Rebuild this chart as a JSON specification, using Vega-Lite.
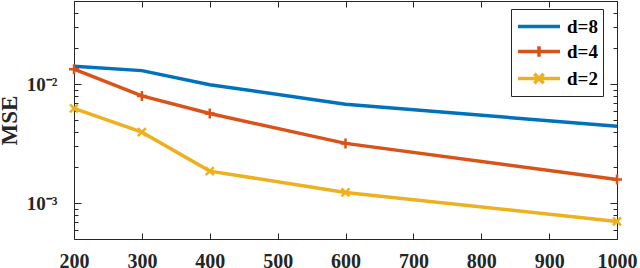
{
  "$schema": "https://vega.github.io/schema/vega-lite/v6.json",
  "width": 543,
  "height": 238,
  "autosize": {"type": "none"},
  "padding": {"left": 74, "top": 1, "right": 23, "bottom": 29},
  "background": "white",
  "config": {
    "view": {"stroke": "#262626", "strokeWidth": 1},
    "axis": {
      "grid": false,
      "domain": false,
      "ticks": true,
      "tickWidth": 1,
      "tickOpacity": 1,
      "zindex": 1,
      "tickColor": "#262626",
      "labelColor": "#262626",
      "titleColor": "#262626",
      "labelFont": "Liberation Serif",
      "labelFontWeight": "bold",
      "titleFont": "Liberation Serif",
      "titleFontWeight": "bold"
    },
    "legend": {
      "labelFont": "Liberation Serif",
      "labelFontWeight": "bold"
    }
  },
  "data": {
    "values": [
      {"n": 200, "mse": 0.01416, "d": "d=8"},
      {"n": 300, "mse": 0.0130, "d": "d=8"},
      {"n": 400, "mse": 0.0099, "d": "d=8"},
      {"n": 600, "mse": 0.00679, "d": "d=8"},
      {"n": 1000, "mse": 0.00443, "d": "d=8"},
      {"n": 200, "mse": 0.01337, "d": "d=4"},
      {"n": 300, "mse": 0.00797, "d": "d=4"},
      {"n": 400, "mse": 0.00567, "d": "d=4"},
      {"n": 600, "mse": 0.00318, "d": "d=4"},
      {"n": 1000, "mse": 0.00158, "d": "d=4"},
      {"n": 200, "mse": 0.00625, "d": "d=2"},
      {"n": 300, "mse": 0.00395, "d": "d=2"},
      {"n": 400, "mse": 0.00186, "d": "d=2"},
      {"n": 600, "mse": 0.00123, "d": "d=2"},
      {"n": 1000, "mse": 0.000702, "d": "d=2"}
    ]
  },
  "layer": [
    {
      "mark": {"type": "line", "strokeWidth": 3.5},
      "encoding": {
        "x": {
          "field": "n", "type": "quantitative",
          "scale": {"domain": [200, 1000], "nice": false},
          "axis": {
            "title": null,
            "values": [200, 300, 400, 500, 600, 700, 800, 900, 1000],
            "format": "d",
            "tickSize": -6,
            "labelPadding": 18,
            "labelFontSize": 20,
            "labelFlush": false
          }
        },
        "y": {
          "field": "mse", "type": "quantitative",
          "scale": {"type": "log", "domain": [0.0005, 0.05], "nice": false},
          "axis": {
            "title": "MSE",
            "titleFontSize": 23,
            "titlePadding": 5,
            "values": [0.001, 0.01],
            "labelExpr": "datum.value > 0.005 ? '10⁻²' : '10⁻³'",
            "tickSize": -7,
            "labelPadding": 24,
            "labelFontSize": 19,
            "labelFlush": false
          }
        },
        "color": {
          "field": "d", "type": "nominal",
          "scale": {"domain": ["d=8", "d=4", "d=2"], "range": ["#0072BD", "#D95319", "#EDB120"]},
          "legend": {
            "title": null,
            "orient": "none",
            "legendX": 437,
            "legendY": 8,
            "fillColor": "white",
            "strokeColor": "#262626",
            "padding": 5,
            "symbolType": "M-1,0L3,0",
            "symbolSize": 441,
            "symbolStrokeWidth": 3.5,
            "symbolFillColor": "transparent",
            "labelFontSize": 19,
            "labelOffset": 26,
            "rowPadding": 2,
            "encode": {
              "symbols": {
                "update": {
                  "shape": {"signal": "datum.value == 'd=4' ? 'M-1,0L3,0M1,-0.5L1,0.5' : (datum.value == 'd=2' ? 'M-1,0L3,0M0.55,-0.45L1.45,0.45M1.45,-0.45L0.55,0.45' : 'M-1,0L3,0')"}
                }
              }
            }
          }
        }
      }
    },
    {
      "transform": [{"filter": "datum.d != 'd=8'"}],
      "mark": {"type": "point", "filled": false, "strokeWidth": 2.5, "size": 100, "opacity": 1},
      "encoding": {
        "x": {
          "field": "n", "type": "quantitative",
          "axis": {
            "orient": "top", "title": null, "labels": false,
            "values": [200, 300, 400, 500, 600, 700, 800, 900, 1000],
            "tickSize": -6
          }
        },
        "y": {
          "field": "mse", "type": "quantitative",
          "axis": {
            "orient": "left", "title": null, "labels": false,
            "values": [0.0005, 0.0006, 0.0007, 0.0008, 0.0009, 0.002, 0.003, 0.004, 0.005, 0.006, 0.007, 0.008, 0.009, 0.02, 0.03, 0.04, 0.05],
            "tickSize": -4
          }
        },
        "color": {"field": "d", "type": "nominal", "legend": null},
        "shape": {
          "field": "d", "type": "nominal",
          "scale": {"domain": ["d=4", "d=2"], "range": ["M-1,0L1,0M0,-1L0,1", "M-0.8,-0.8L0.8,0.8M0.8,-0.8L-0.8,0.8"]},
          "legend": null
        }
      }
    },
    {
      "mark": {"type": "line", "opacity": 0},
      "encoding": {
        "x": {"field": "n", "type": "quantitative", "axis": null},
        "y": {
          "field": "mse", "type": "quantitative",
          "axis": {
            "orient": "right", "title": null, "labels": false,
            "values": [0.001, 0.01],
            "tickSize": -7
          }
        },
        "detail": {"field": "d"}
      }
    },
    {
      "mark": {"type": "line", "opacity": 0},
      "encoding": {
        "x": {"field": "n", "type": "quantitative", "axis": null},
        "y": {
          "field": "mse", "type": "quantitative",
          "axis": {
            "orient": "right", "title": null, "labels": false,
            "values": [0.0005, 0.0006, 0.0007, 0.0008, 0.0009, 0.002, 0.003, 0.004, 0.005, 0.006, 0.007, 0.008, 0.009, 0.02, 0.03, 0.04, 0.05],
            "tickSize": -4
          }
        },
        "detail": {"field": "d"}
      }
    }
  ],
  "resolve": {"axis": {"x": "independent", "y": "independent"}}
}
